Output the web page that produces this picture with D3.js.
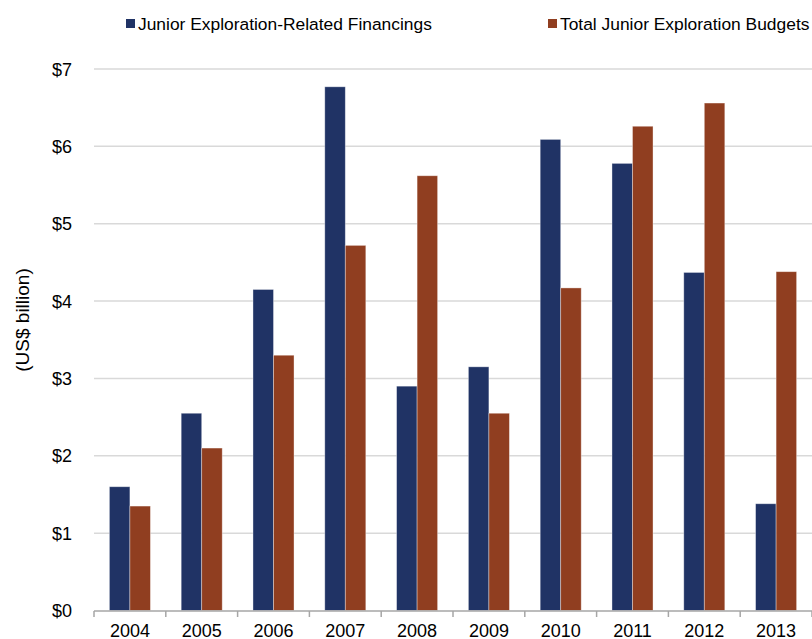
<!DOCTYPE html>
<html><head><meta charset="utf-8">
<script src="https://cdn.jsdelivr.net/npm/d3@7"></script>
<style>body{margin:0;background:#fff}svg{display:block}text{font-family:"Liberation Sans",Arial,sans-serif;fill:#000}</style>
</head><body><svg id="c" width="812" height="639"></svg>
<script>
const years = ["2004","2005","2006","2007","2008","2009","2010","2011","2012","2013"];
const financings = [1.60,2.55,4.15,6.77,2.90,3.15,6.09,5.78,4.37,1.38];
const budgets = [1.35,2.10,3.30,4.72,5.62,2.55,4.17,6.26,6.56,4.38];
const seriesNames = ["Junior Exploration-Related Financings","Total Junior Exploration Budgets"];
const colors = ["#203365","#903e20"];
const yTicks = [0,1,2,3,4,5,6,7];

const svg = d3.select("#c");
const x = d3.scaleBand().domain(years).range([94, 812]).paddingInner(0).paddingOuter(0);
const y = d3.scaleLinear().domain([0,7]).range([610.5, 69]);
const inner = d3.scaleBand().domain([0,1]).range([0, x.bandwidth()]).paddingInner(0).paddingOuter(0.75);

// gridlines
svg.append("g").selectAll("line").data(yTicks.slice(1)).join("line")
  .attr("x1",94).attr("x2",812).attr("y1",d=>y(d)).attr("y2",d=>y(d))
  .attr("stroke","#d9d9d9").attr("stroke-width",1.5);

// y labels
svg.append("g").selectAll("text").data(yTicks).join("text")
  .attr("x",72).attr("y",d=>y(d)+6.5).attr("text-anchor","end")
  .attr("font-size",18).text(d=>"$"+d);

svg.append("text").attr("transform","translate(29,320) rotate(-90)")
  .attr("text-anchor","middle").attr("font-size",19).text("(US$ billion)");

// bars
const series = [financings, budgets];
series.forEach((vals,si)=>{
  svg.append("g").selectAll("rect").data(vals).join("rect")
    .attr("x",(d,i)=>x(years[i])+inner(si))
    .attr("width",inner.bandwidth())
    .attr("y",d=>y(d)).attr("height",d=>y(0)-y(d))
    .attr("fill",colors[si]).attr("stroke","#ffffff").attr("stroke-opacity",0.45).attr("stroke-width",0.8);
});

// x axis
const xa = svg.append("g");
xa.append("line").attr("x1",94).attr("x2",812).attr("y1",611).attr("y2",611).attr("stroke","#a6a6a6").attr("stroke-width",1.5);
xa.selectAll("line.t").data(years.concat(["end"])).join("line").attr("class","t")
  .attr("x1",(d,i)=>94+i*x.bandwidth()).attr("x2",(d,i)=>94+i*x.bandwidth())
  .attr("y1",611).attr("y2",617).attr("stroke","#a6a6a6").attr("stroke-width",1.5);
xa.selectAll("text").data(years).join("text")
  .attr("x",d=>x(d)+x.bandwidth()/2).attr("y",637).attr("text-anchor","middle")
  .attr("font-size",18).text(d=>d);

// legend
const leg = [{x:126},{x:548}];
leg.forEach((l,i)=>{
  svg.append("rect").attr("x",l.x).attr("y",19).attr("width",9).attr("height",9).attr("fill",colors[i]);
  svg.append("text").attr("x",l.x+12).attr("y",29.5).attr("font-size",17.4).text(seriesNames[i]);
});
</script></body></html>
